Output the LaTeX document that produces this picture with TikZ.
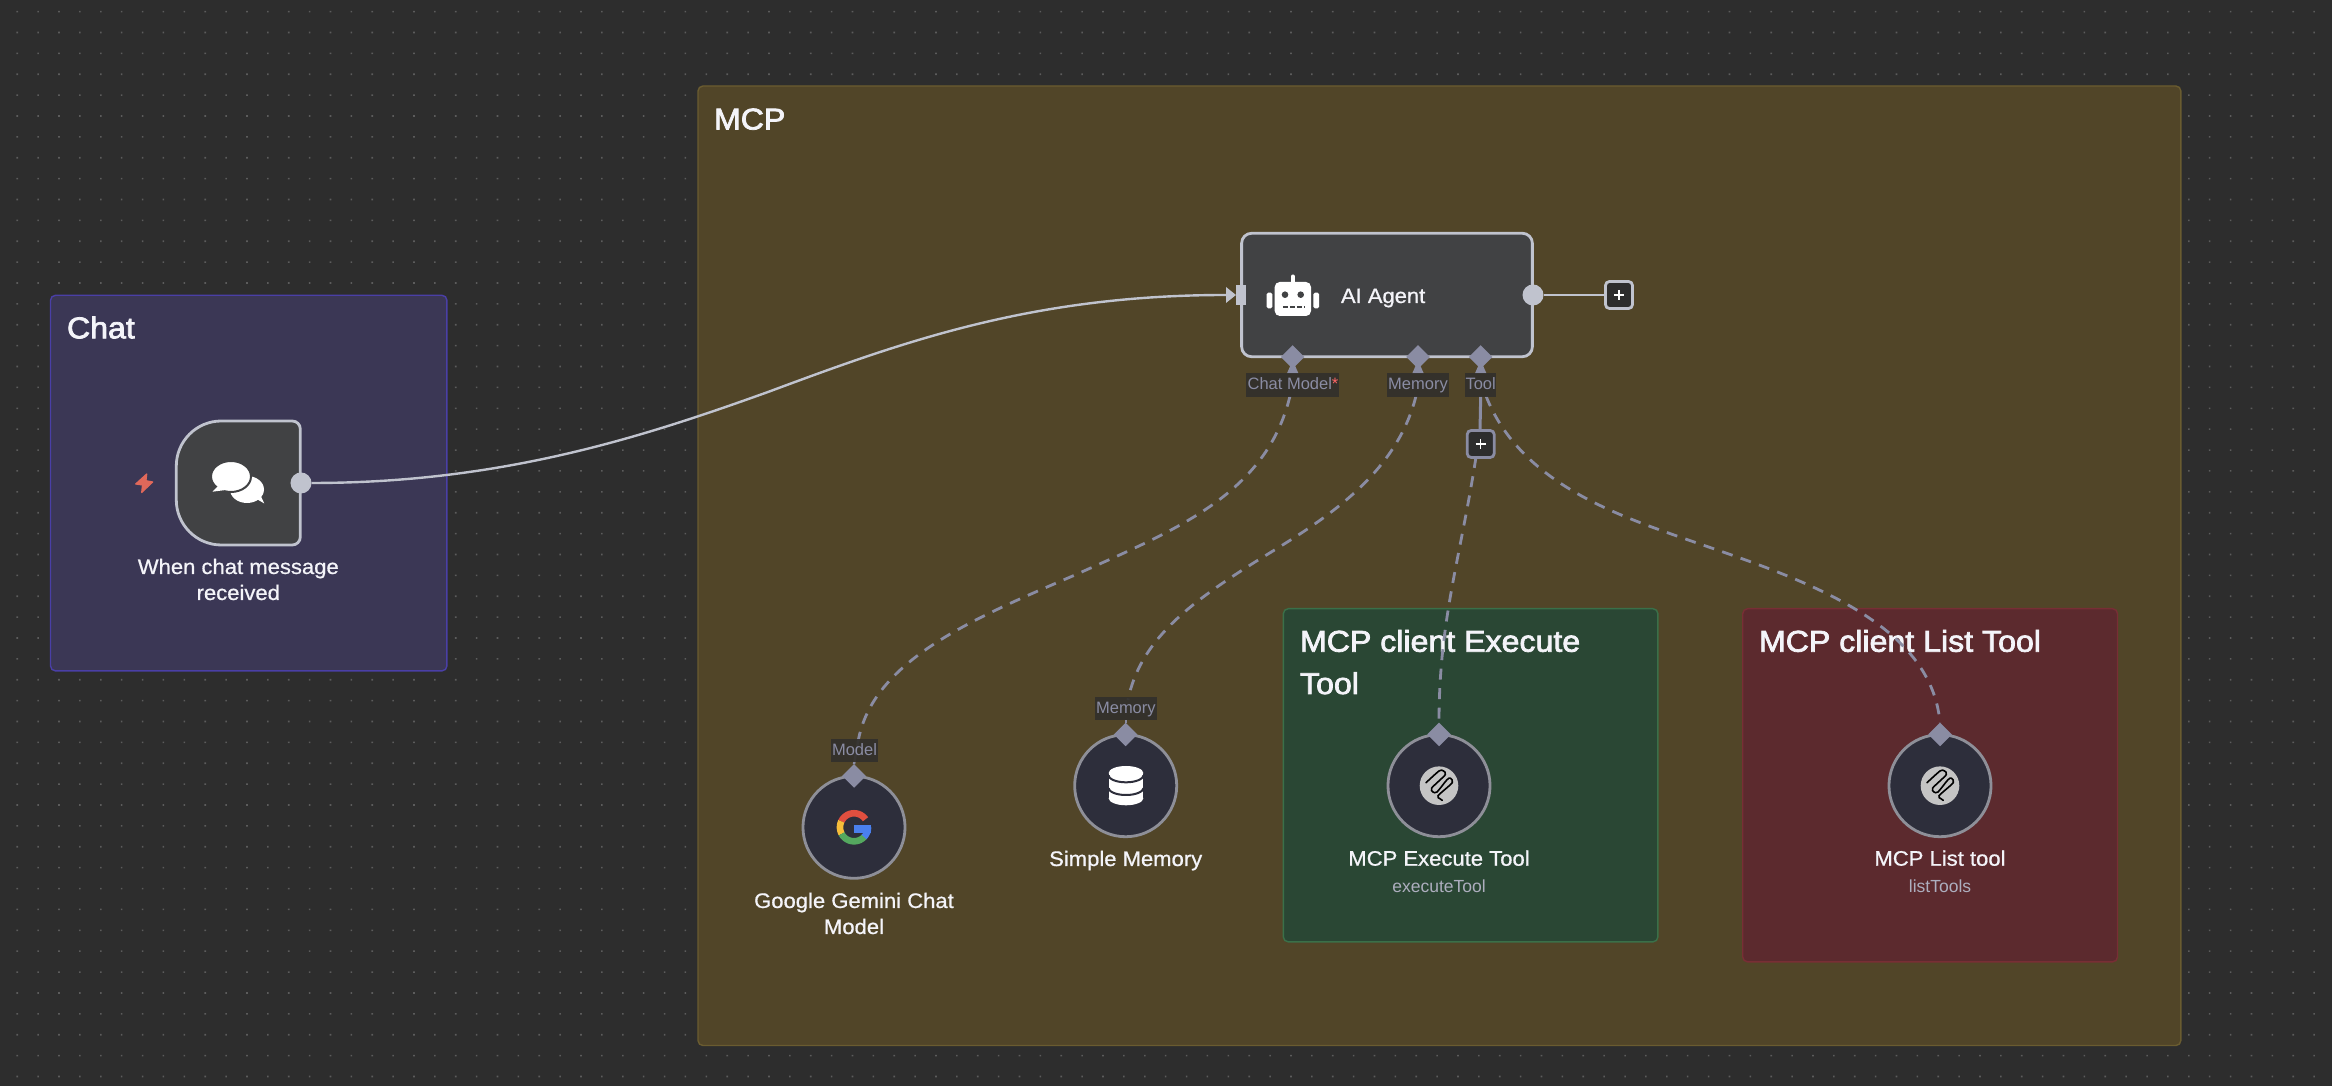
\documentclass[tikz,border=0pt]{standalone}
\usepackage{fontspec}
\setmainfont{Liberation Sans}
\newfontfamily\titlef[FakeBold=2.5,FakeStretch=1.07]{Liberation Sans}
\newfontfamily\labelf[FakeBold=0.8,FakeStretch=1.05]{Liberation Sans}
\usetikzlibrary{shapes.geometric}
\definecolor{bgc}{HTML}{2D2D2D}
\definecolor{dotc}{HTML}{5C5C5C}
\definecolor{mcpf}{HTML}{514528}
\definecolor{mcpb}{HTML}{6A5C30}
\definecolor{chatf}{HTML}{3B3755}
\definecolor{chatb}{HTML}{4A3FA6}
\definecolor{greenf}{HTML}{2A4734}
\definecolor{greenb}{HTML}{3A7049}
\definecolor{redf}{HTML}{5C2A2E}
\definecolor{redb}{HTML}{782E35}
\definecolor{nodef}{HTML}{414244}
\definecolor{nodeb}{HTML}{C0C3CE}
\definecolor{portc}{HTML}{8A8CA3}
\definecolor{circf}{HTML}{2D2E3B}
\definecolor{circb}{HTML}{8E8F98}
\definecolor{lblf}{HTML}{32302C}
\definecolor{wtext}{HTML}{F4F4F9}
\definecolor{boltc}{HTML}{E0685A}
\tikzset{
  grp/.style={draw,line width=0.014cm,rounded corners=0.05cm,anchor=north west,inner sep=0,outer sep=0},
  grptitle/.style={anchor=base west,inner sep=0,outer sep=0,align=left,text=wtext,font=\titlef\fontsize{8.535}{12.03}\selectfont},
  lbl/.style={anchor=base,inner sep=0,outer sep=0,align=center,text=wtext,font=\labelf\fontsize{5.97}{7.4}\selectfont},
  sublbl/.style={anchor=base,inner sep=0,outer sep=0,text=portc!70!white,font=\fontsize{4.98}{6}\selectfont},
  portlbl/.style={fill=lblf,fill opacity=0.93,text opacity=1,text=portc,inner sep=0,outer sep=0,font=\fontsize{4.69}{5.5}\selectfont,minimum height=0.233cm,text height=0.13cm,text depth=0.03cm,anchor=north west},
  mainbox/.style={draw=nodeb,fill=nodef,line width=0.028cm,inner sep=0,outer sep=0},
  outdot/.style={circle,fill=nodeb,minimum size=0.21cm,inner sep=0,outer sep=0},
  portd/.style={diamond,aspect=1,fill=portc,minimum size=0.235cm,inner sep=0,outer sep=0},
  toolc/.style={circle,draw=circb,fill=circf,line width=0.028cm,minimum size=1.02cm,inner sep=0,outer sep=0},
  plusb/.style={draw,fill=bgc,line width=0.028cm,rounded corners=0.04cm,minimum size=0.27cm,inner sep=0,outer sep=0},
  conn/.style={draw=nodeb,line width=0.024cm},
  dashc/.style={draw=portc,line width=0.028cm,dash pattern=on 0.11cm off 0.085cm},
  mcpclip/.style={black,line width=0.016cm,line cap=round,line join=round}
}
\newcommand{\mcpicon}[2]{%
  \begin{scope}[shift={(#1,#2)}]
    \fill[black!23] (0,0) circle (19.3);
    \draw[mcpclip] plot[smooth,tension=0.45] coordinates {(-13,-3) (0,-14.7) (4,-15) (6.3,-11) (-7.3,2.3) (-6,6.3) (-2,6.3) (8,-6) (11.3,-7.5) (13.3,-3) (-1,10) (1,13) (3.3,14.7)};
  \end{scope}}
\begin{document}
\begin{tikzpicture}[x=0.01cm,y=-0.01cm]
\useasboundingbox (0,0) rectangle (2332,1086);
\fill[bgc] (0,0) rectangle (2332,1086);
% dotted canvas
\fill[dotc] foreach \i in {1,...,112} {foreach \j in {0,...,51} {
  ({-3.6+20.88*\i-0.8},{11.6+20.88*\j-0.8}) rectangle ++(1.6,1.6)}};
% groups
\node[grp,draw=chatb,fill=chatf,minimum width=3.962cm,minimum height=3.754cm] (gChat) at (50.5,295.3) {};
\node[grp,draw=mcpb,fill=mcpf,minimum width=14.82cm,minimum height=9.59cm] (gMcp) at (698,86) {};
\node[grp,draw=greenb,fill=greenf,minimum width=3.744cm,minimum height=3.33cm] (gExec) at (1283.3,608.7) {};
\node[grp,draw=redb,fill=redf,minimum width=3.746cm,minimum height=3.53cm] (gList) at (1742.7,608.7) {};
\node[grptitle] (tChat) at (67,338.3) {Chat};
\node[grptitle] (tMcp) at (714,129.5) {MCP};
\node[grptitle] (tExec) at (1300,694) {MCP client Execute\\Tool};
\node[grptitle] (tList) at (1759,651.7) {MCP client List Tool};
% trigger
\node[minimum width=1.24cm,minimum height=1.24cm,inner sep=0,outer sep=0] (trigger) at (238.3,483) {};
\draw[mainbox] (221.3,421) -- (292.3,421) .. controls (296.7,421) and (300.3,424.6) .. (300.3,429) -- (300.3,537) .. controls (300.3,541.4) and (296.7,545) .. (292.3,545) -- (221.3,545) .. controls (196.5,545) and (176.3,524.8) .. (176.3,500) -- (176.3,466) .. controls (176.3,441.2) and (196.5,421) .. (221.3,421) -- cycle;
\node[outdot] (outTrig) at (301,483) {};
% lightning
\filldraw[fill=boltc,draw=boltc,line width=0.012cm,line join=round] (146.7,474) -- (135.7,484) -- (142.5,485) -- (141.7,492.5) -- (152.7,482) -- (146,480.7) -- cycle;
% chat bubbles
\fill[white] (247,489.5) ellipse [x radius=17,y radius=13.5];
\fill[white] (255,498) -- (264.3,503.5) -- (258,490) -- cycle;
\fill[white,draw=nodef,line width=0.02cm] (231,476.5) ellipse [x radius=20,y radius=15.5];
\fill[white] (219,485) -- (212.5,491.7) -- (226,490) -- cycle;
\node[lbl] (lTrig) at (238.3,600) {When chat message\\received};
% agent
\node[mainbox,rounded corners=0.1cm,minimum width=2.906cm,minimum height=1.234cm] (agent) at (1387,295) {};
\node[anchor=base west,inner sep=0,outer sep=0,text=wtext,font=\labelf\fontsize{5.95}{7}\selectfont] (tAgent) at (1341,303) {AI Agent};
\node[fill=nodeb,minimum width=0.1cm,minimum height=0.205cm,inner sep=0,outer sep=0] (inAgent) at (1240.7,295) {};
\fill[nodeb] (1226,287) -- (1236,295) -- (1226,303) -- cycle;
\coordinate (inTip) at (1226,295);
\node[outdot] (outAgent) at (1533,295) {};
\node[plusb,draw=nodeb] (plusMain) at (1619,295) {};
\draw[white,line width=0.014cm] (1614,295) -- (1624,295) (1619,290) -- (1619,300);
\draw[conn] (outAgent.east) ++(0.5,0) -- (plusMain.west);
% robot
\fill[white,rounded corners=0.05cm] (1274.7,282) rectangle (1311,316);
\fill[white,rounded corners=0.015cm] (1266.7,292.7) rectangle (1272.4,308.3);
\fill[white,rounded corners=0.015cm] (1313.4,292.7) rectangle (1319,308.3);
\draw[white,line width=0.04cm,line cap=round] (1292.8,276.5) -- (1292.8,284);
\fill[nodef] (1285,294.7) circle (3.3) (1300.7,294.7) circle (3.3);
\draw[nodef,line width=0.02cm,dash pattern=on 0.05cm off 0.02cm] (1282.8,306.7) -- (1304,306.7);
% main connector
\draw[conn] (outTrig.east) .. controls (500,483) and (640,438) .. (768,392) .. controls (900,343) and (1030,295) .. (inTip);
% agent ports
\foreach \nm/\x in {pModel/1292.7,pMem/1418,pTool/1480.7}{
  \node[portd] (\nm) at (\x,357) {};
  \fill[portc] (\x-2.5,366) -- (\x+2.5,366) -- (\x+6,374) -- (\x-6,374) -- cycle;
}
% lower tool nodes
\node[toolc] (nGem) at (854,827.3) {};
\node[toolc] (nMem) at (1125.7,785.7) {};
\node[toolc] (nExe) at (1439,785.7) {};
\node[toolc] (nLst) at (1940,785.7) {};
\node[portd] (dGem) at (854,776) {};
\node[portd] (dMem) at (1125.7,734.5) {};
\node[portd] (dExe) at (1439,734.5) {};
\node[portd] (dLst) at (1940,734.5) {};
% dashed connectors
\coordinate (sModel) at (1290,396);
\coordinate (sMem) at (1416,396);
\coordinate (sTool) at (1486,396);
\draw[dashc] (sModel) .. controls (1266,495) and (1175,530) .. (1075,575) .. controls (975,618) and (872,660) .. (858,742);
\draw[portc,line width=0.024cm] (858,742) -- (dGem.north);
\draw[dashc] (sMem) .. controls (1395,480) and (1315,525) .. (1255,562) .. controls (1190,603) and (1140,640) .. (1128,700);
\draw[dashc] (1476,457) .. controls (1460,560) and (1439,620) .. (dExe.north);
\draw[dashc] (sTool) .. controls (1515,470) and (1590,505) .. (1660,530) .. controls (1770,570) and (1930,610) .. (dLst.north);
\draw[portc,line width=0.03cm] (1480.7,396) -- (1480,431);
\node[plusb,draw=portc] (plusTool) at (1480.7,444) {};
\draw[white,line width=0.014cm] (1475.7,444) -- (1485.7,444) (1480.7,439) -- (1480.7,449);
\draw[portc,line width=0.024cm] (1125.7,720) -- (dMem.north);
% port labels
\node[portlbl,minimum width=0.93cm] (lChatModel) at (1246,373.3) {\hspace*{0.01cm}Chat Model\textcolor{red!60!white}{*}};
\node[portlbl,minimum width=0.614cm] (lMemory) at (1387.3,373.3) {Memory};
\node[portlbl,minimum width=0.313cm] (lTool) at (1465,373.3) {Tool};
\node[portlbl,minimum width=0.464cm] (lModel) at (831.3,739) {Model};
\node[portlbl,minimum width=0.617cm] (lMemory2) at (1095,697) {Memory};
% icons
\foreach \a/\b/\c in {35/155/E04F3F,155/208/F5BD3A,208/318/54A85F}{
  \definecolor{tmpc}{HTML}{\c}
  \draw[tmpc,line width=0.066cm] plot[domain=\a:\b,samples=25] ({854+14*cos(\x)},{827.3-14*sin(\x)});
}
\definecolor{gblue}{HTML}{4A80EE}
\draw[gblue,line width=0.066cm] plot[domain=316:360,samples=12] ({854+14*cos(\x)},{827.3-14*sin(\x)});
\fill[gblue] (854.3,825) rectangle (871.3,833);
% database
\fill[white] (1126,773) ellipse [x radius=17.3,y radius=7];
\fill[white] (1108.7,773) rectangle (1143.3,798.3);
\fill[white] (1126,798.3) ellipse [x radius=17.3,y radius=7];
\draw[circf,line width=0.02cm] plot[domain=180:360,samples=25] ({1126+17.3*cos(\x)},{775.3-7*sin(\x)});
\draw[circf,line width=0.02cm] plot[domain=180:360,samples=25] ({1126+17.3*cos(\x)},{788-7*sin(\x)});
\mcpicon{1439}{785.7}
\mcpicon{1940}{785.7}
% node labels
\node[lbl] (lGem) at (854,934) {Google Gemini Chat\\Model};
\node[lbl] (lMem) at (1125.7,866) {Simple Memory};
\node[lbl] (lExe) at (1439,865.7) {MCP Execute Tool};
\node[lbl] (lLst) at (1940,865.7) {MCP List tool};
\node[sublbl] (sExeT) at (1439,893) {executeTool};
\node[sublbl] (sLstT) at (1940,893) {listTools};
\end{tikzpicture}
\end{document}
